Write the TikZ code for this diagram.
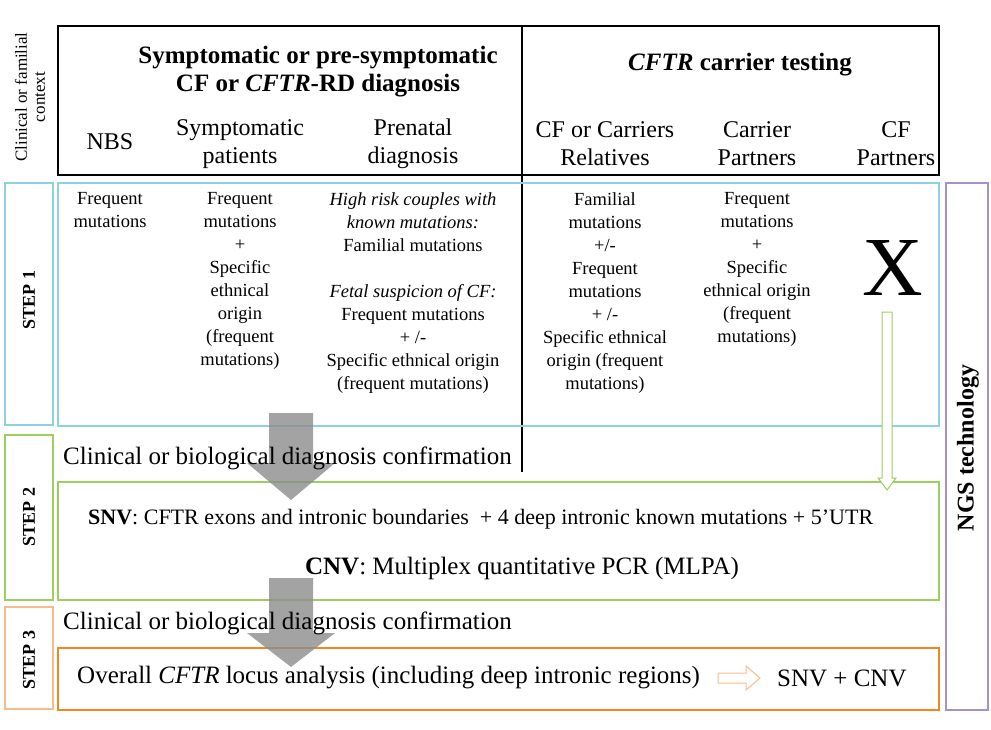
\documentclass[tikz,border=0pt]{standalone}
\usepackage{fontspec}
\setmainfont{Liberation Serif}
\usetikzlibrary{shapes.arrows}
\definecolor{cblue}{HTML}{8ED2E2}
\definecolor{cgreen}{HTML}{9CCF5D}
\definecolor{corl}{HTML}{F8BC8A}
\definecolor{cor}{HTML}{F0881E}
\definecolor{cpur}{HTML}{A692C9}
\tikzset{
 txt/.style={inner sep=0pt,align=center,font=\fontsize{18.5}{23}\selectfont,anchor=north},
 hdr/.style={inner sep=0pt,align=center,font=\fontsize{24}{28}\selectfont},
 steplab/.style={inner sep=0pt,rotate=90,font=\fontsize{18}{20}\selectfont\bfseries},
 big/.style={inner sep=0pt,anchor=west,font=\fontsize{25}{28}\selectfont},
 grayarrow/.style={fill=black!45,opacity=0.8,draw=none}
}
\begin{document}
\begin{tikzpicture}[x=1pt,y=-1pt]
\useasboundingbox (0,0) rectangle (991,730);
% boxes
\draw[line width=2.2pt] (58,26) rectangle (939,175);
\draw[line width=1.2pt] (522,26) -- (522,472);
\draw[cblue,line width=2pt] (58,183) rectangle (939,426);
\draw[cblue,line width=1.2pt] (5,183) rectangle (53,425);
\draw[cgreen,line width=1.2pt] (5,435) rectangle (53,600);
\draw[cgreen,line width=2pt] (58,482) rectangle (939,600);
\draw[corl,line width=1.2pt] (5,607) rectangle (53,709);
\draw[cor,line width=2pt] (58,648) rectangle (939,710);
\draw[cpur,line width=1.2pt] (946,183) rectangle (988,710);
% side labels
\node[rotate=90,inner sep=0pt,align=center,font=\fontsize{17}{18}\selectfont] (ctx) at (30,97) {Clinical or familial\\context};
\node[steplab] (s1) at (29,300) {STEP 1};
\node[steplab] (s2) at (29,517) {STEP 2};
\node[steplab] (s3) at (29,660) {STEP 3};
\node[rotate=90,inner sep=0pt,font=\fontsize{24}{26}\selectfont\bfseries] (ngs) at (968,448) {NGS technology};
% header
\node[hdr,font=\fontsize{25}{28}\selectfont\bfseries] (t1) at (318,72) {Symptomatic or pre-symptomatic\\CF or \textit{CFTR}-RD diagnosis};
\node[hdr,font=\fontsize{25}{28}\selectfont\bfseries] (t2) at (740,65) {\textit{CFTR} carrier testing};
\node[hdr] (h1) at (110,142) {NBS};
\node[hdr] (h2) at (240,144) {Symptomatic\\patients};
\node[hdr] (h3) at (413,144) {Prenatal\\diagnosis};
\node[hdr] (h4) at (605,144) {CF or Carriers\\Relatives};
\node[hdr] (h5) at (757,144) {Carrier\\Partners};
\node[hdr] (h6) at (896,144) {CF\\Partners};
% step 1 texts
\node[txt] (c1) at (110,192) {Frequent\\mutations};
\node[txt] (c2) at (240,192) {Frequent\\mutations\\+\\Specific\\ethnical\\origin\\(frequent\\mutations)};
\node[txt] (c3) at (413,192) {\textit{High risk couples with}\\\textit{known mutations:}\\Familial mutations\\[23pt]\textit{Fetal suspicion of CF:}\\Frequent mutations\\+ /-\\Specific ethnical origin\\(frequent mutations)};
\node[txt] (c4) at (605,192) {Familial\\mutations\\+/-\\Frequent\\mutations\\+ /-\\Specific ethnical\\origin (frequent\\mutations)};
\node[txt] (c5) at (757,192) {Frequent\\mutations\\+\\Specific\\ethnical origin\\(frequent\\mutations)};
\node[inner sep=0pt,font=\fontsize{84}{84}\selectfont] (x) at (893,268) {X};
% arrows
\path[grayarrow] (269,413) -- (313,413) -- (313,463) -- (335,463) -- (291,500) -- (247,463) -- (269,463) -- cycle;
\path[grayarrow] (269,578) -- (313,578) -- (313,633) -- (335,633) -- (291,667) -- (247,633) -- (269,633) -- cycle;
\draw[cgreen,fill=white,line width=1pt] (882,312) -- (892,312) -- (892,478) -- (896,478) -- (887,490) -- (878,478) -- (882,478) -- cycle;
\node[big] (cl1) at (63,458) {Clinical or biological diagnosis confirmation};
\node[inner sep=0pt,anchor=west,font=\fontsize{22}{24}\selectfont] (snv) at (88,519) {\textbf{SNV}: CFTR exons and intronic boundaries~ + 4 deep intronic known mutations + 5’UTR};
\node[inner sep=0pt,font=\fontsize{25}{28}\selectfont] (cnv) at (522,568) {\textbf{CNV}: Multiplex quantitative PCR (MLPA)};
\node[big] (cl2) at (63,623) {Clinical or biological diagnosis confirmation};
\node[big] (ov) at (77,678) {Overall \textit{CFTR} locus analysis (including deep intronic regions)};
\draw[corl,fill=white,line width=1pt] (718,673) -- (746,673) -- (746,666) -- (760,678) -- (746,690) -- (746,683) -- (718,683) -- cycle;
\node[big] (sc) at (777,678) {SNV + CNV};
\end{tikzpicture}
\end{document}
